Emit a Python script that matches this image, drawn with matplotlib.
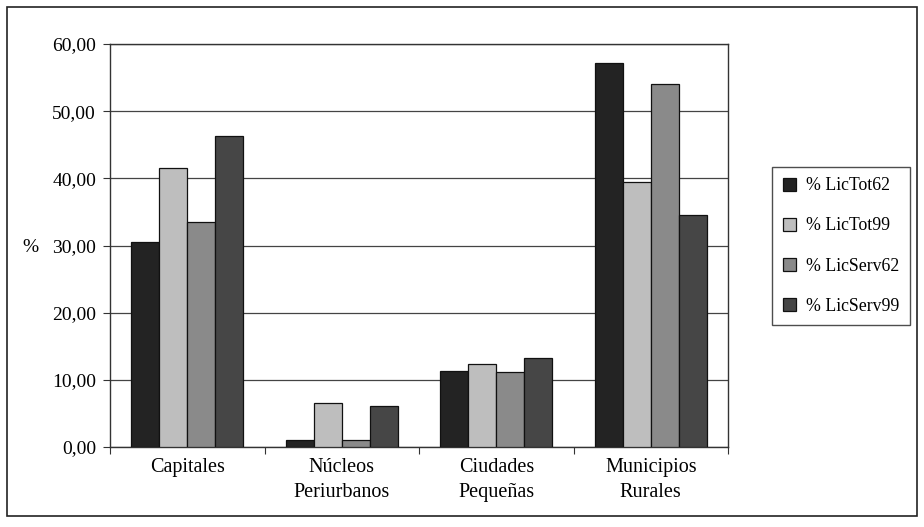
import numpy as np
import matplotlib.pyplot as plt
from matplotlib.patches import Rectangle

categories = ['Capitales', 'Núcleos\nPeriurbanos', 'Ciudades\nPequeñas', 'Municipios\nRurales']
series_names = ['% LicTot62', '% LicTot99', '% LicServ62', '% LicServ99']
lictot62 = [30.5, 1.0, 11.3, 57.2]
lictot99 = [41.5, 6.6, 12.4, 39.4]
licserv62 = [33.5, 1.0, 11.2, 54.1]
licserv99 = [46.3, 6.1, 13.3, 34.6]
yticks = [0, 10, 20, 30, 40, 50, 60]
ytick_labels = ['0,00', '10,00', '20,00', '30,00', '40,00', '50,00', '60,00']

colors = ['#232323', '#bebebe', '#8a8a8a', '#464646']

plt.rcParams['font.family'] = ['Liberation Serif', 'DejaVu Serif']

fig = plt.figure(figsize=(9.24, 5.27), dpi=100)
ax = fig.add_axes([110 / 924, 1 - 447 / 527, 618 / 924, 403 / 527])

# outer frame around the whole chart
fig.patches.append(Rectangle((7 / 924, 1 - 516 / 527), 910 / 924, 509 / 527,
                             transform=fig.transFigure, fill=False,
                             edgecolor='#222222', linewidth=1.2))

x = np.arange(len(categories))
width = 0.182
all_series = [lictot62, lictot99, licserv62, licserv99]
for i, (vals, name) in enumerate(zip(all_series, series_names)):
    ax.bar(x + (i - 1.5) * width, vals, width=width, color=colors[i],
           edgecolor='#111111', linewidth=0.9, label=name, zorder=3)

ax.set_xlim(-0.5, len(categories) - 0.5)
ax.set_ylim(0, 60)
ax.set_yticks(yticks)
ax.set_yticklabels(ytick_labels, fontsize=14)
ax.yaxis.grid(True, color='#444444', linewidth=0.9, zorder=0)

# ticks on category boundaries, labels in the middle
ax.set_xticks(np.arange(-0.5, len(categories), 1.0))
ax.set_xticklabels([])
ax.set_xticks(x, minor=True)
ax.set_xticklabels(categories, minor=True, fontsize=14.5, linespacing=1.4)
ax.tick_params(axis='x', which='minor', length=0, pad=8)
ax.tick_params(axis='x', which='major', length=5, direction='out', color='#333333')
ax.tick_params(axis='y', length=5, direction='out', color='#333333', pad=5)

for s in ax.spines.values():
    s.set_color('#333333')
    s.set_linewidth(1.0)

fig.text(22 / 924, 1 - 247 / 527, '%', fontsize=14, ha='left', va='center')

leg = ax.legend(loc='center left', bbox_to_anchor=(772 / 924, 1 - 246 / 527),
                bbox_transform=fig.transFigure, fontsize=12.8, frameon=True,
                fancybox=False, edgecolor='#222222', labelspacing=1.3,
                handlelength=0.75, handleheight=0.75, handletextpad=0.55,
                borderpad=0.6, borderaxespad=0)
leg.get_frame().set_linewidth(1.0)

fig.savefig('out.png', dpi=100, facecolor='white')
